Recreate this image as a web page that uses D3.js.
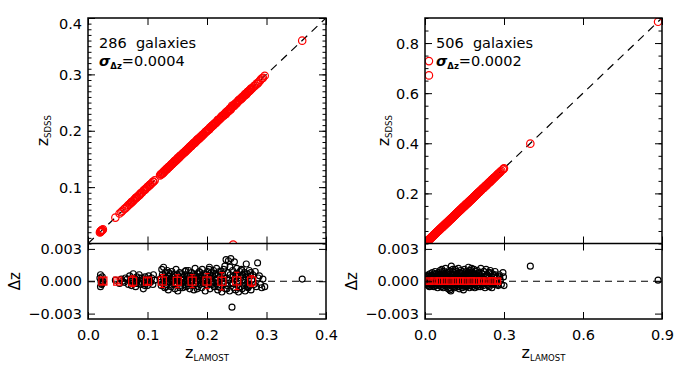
<!DOCTYPE html>
<html><head><meta charset="utf-8">
<script src="https://cdn.jsdelivr.net/npm/d3@7"></script>
<style>body{margin:0;background:#fff}svg{display:block}text{font-family:"DejaVu Sans",Arial,sans-serif}</style>
</head><body>
<script>
// ---------------- DATA ----------------
// Left sample (286 galaxies): z_LAMOST and Δz = z_LAMOST - z_SDSS
const leftZ = [0.020,0.021,0.022,0.023,0.024,0.022,0.025,0.021,0.0235,
0.046,0.053,0.056,0.058,0.061,0.063,
0.066,0.068,0.070,0.071,0.073,0.074,0.076,0.077,0.079,0.080,0.082,0.083,0.085,0.086,0.088,0.089,0.091,0.093,0.094,0.096,0.097,0.099,0.100,0.102,0.104,0.105,0.107,0.109,0.110,0.112,0.0815,0.0875,0.0955,0.1035,0.0725,
0.121,0.123,0.124,0.125,0.126,0.127,0.128,0.129,0.130,0.131,0.132,0.133,0.134,0.135,0.136,0.137,0.138,0.139,0.140,0.141,0.142,0.143,0.144,0.145,0.146,0.147,0.148,0.149,0.150,0.151,0.152,0.153,0.154,0.155,0.156,0.157,0.158,0.159,0.160,0.161,0.162,0.163,0.164,0.165,0.166,0.167,0.168,0.169,0.170,0.171,0.172,0.173,0.174,0.175,0.176,0.177,0.178,0.179,0.180,0.181,0.182,0.183,0.184,0.185,0.186,0.187,0.188,0.189,0.190,0.191,0.192,0.193,0.194,0.195,0.196,0.197,0.198,0.199,0.200,0.201,0.202,0.203,0.204,0.205,0.206,0.207,0.208,0.209,0.210,0.211,0.212,0.213,0.214,0.215,0.216,0.217,0.218,0.219,0.220,0.221,0.222,0.223,0.224,0.225,0.226,0.227,0.228,0.229,0.230,0.231,0.232,0.233,0.234,0.235,0.236,0.237,0.238,0.239,0.240,0.241,0.242,0.243,0.244,0.245,0.246,0.247,0.248,0.249,0.250,0.251,0.252,0.253,0.254,0.255,0.256,0.257,0.258,0.259,0.260,0.261,0.262,0.263,0.264,0.265,0.266,0.267,0.268,0.269,0.270,0.271,0.272,0.273,0.274,0.275,0.277,0.279,0.281,0.283,0.285,0.286,0.288,0.290,0.292,0.294,0.297,
0.1225,0.1265,0.1315,0.1355,0.1405,0.1455,0.1505,0.1545,0.1595,0.1645,0.1685,0.1735,0.1785,0.1835,0.1885,0.1935,0.1985,0.2035,0.2085,0.2135,0.2185,0.2235,0.2285,0.2335,0.2385,0.2435,0.2485,0.2535,0.2585,0.2635,0.2685,0.2735,
0.360,0.244];
const leftDz = [0.0003,-0.0005,0.0001,-0.0003,0.0004,-0.0001,0.0000,0.0006,-0.0002,
0.0001,-0.0002,0.0002,0.0000,-0.0001,0.0003,
0.0002,-0.0003,0.0005,0.0000,-0.0004,0.0003,0.0007,-0.0001,0.0002,-0.0005,0.0004,0.0001,-0.0002,0.0006,0.0000,-0.0003,0.0003,-0.0007,0.0001,0.0004,-0.0002,0.0002,-0.0004,0.0005,0.0000,-0.0001,0.0003,-0.0003,0.0006,0.0001,-0.0002,0.0003,-0.0004,0.0002,0.0001,
0.0002,-0.0004,0.0011,0.0006,-0.0002,0.0013,0.0000,-0.0006,0.0008,0.0003,-0.0003,0.0010,0.0001,-0.0008,0.0005,-0.0001,0.0007,0.0002,-0.0005,0.0009,0.0000,0.0004,-0.0003,0.0006,-0.0007,0.0001,0.0011,-0.0002,0.0003,-0.0009,0.0005,0.0000,0.0008,-0.0004,0.0002,-0.0001,0.0007,-0.0006,0.0004,0.0001,-0.0003,0.0009,0.0000,-0.0005,0.0006,0.0002,-0.0002,0.0010,0.0003,-0.0007,0.0005,-0.0001,0.0008,0.0001,-0.0004,0.0006,-0.0008,0.0002,0.0012,-0.0002,0.0004,0.0000,0.0007,-0.0005,0.0003,0.0009,-0.0003,0.0001,0.0005,-0.0006,0.0011,0.0000,-0.0002,0.0007,0.0003,-0.0009,0.0006,0.0001,-0.0004,0.0009,-0.0001,0.0004,0.0013,-0.0007,0.0002,0.0008,-0.0003,0.0005,0.0000,0.0010,-0.0005,0.0003,0.0007,-0.0002,0.0012,0.0001,-0.0008,0.0006,-0.0001,0.0009,0.0004,-0.0006,0.0002,-0.0010,0.0007,-0.0003,0.0011,0.0000,0.0014,-0.0007,0.0020,0.0003,-0.0004,0.0008,0.0019,0.0001,-0.0009,0.0006,0.0021,-0.0002,-0.0024,0.0010,0.0004,-0.0006,0.0018,0.0002,-0.0008,0.0007,0.0012,-0.0003,0.0005,-0.0010,0.0000,0.0009,-0.0005,0.0003,0.0011,-0.0007,0.0006,0.0001,-0.0004,0.0008,-0.0009,0.0004,0.0016,-0.0002,0.0007,-0.0006,0.0002,0.0010,-0.0004,0.0005,-0.0008,0.0001,0.0006,-0.0003,0.0009,-0.0005,0.0017,0.0003,0.0005,-0.0003,-0.0006,0.0002,-0.0005,
-0.0001,0.0004,-0.0005,0.0008,0.0002,-0.0002,0.0006,-0.0006,0.0003,0.0010,-0.0004,0.0000,0.0005,-0.0007,0.0008,0.0002,-0.0003,0.0011,-0.0001,0.0006,-0.0005,0.0009,0.0003,-0.0007,0.0013,-0.0002,0.0005,-0.0006,0.0010,0.0001,-0.0005,0.0008,
0.0002,0.2460];
// Left binned means
const leftBinZ = [0.025,0.050,0.075,0.100,0.125,0.150,0.175,0.200,0.225,0.250,0.275];
const leftBinDz = [0.00002,0.00001,0.00000,0.00001,0.00002,0.00000,0.00001,0.00002,0.00000,0.00003,0.00001];
const leftBinErr = [0.0003,0.0002,0.0005,0.0003,0.0006,0.0006,0.0006,0.0007,0.0008,0.0008,0.0005];

// Right sample (506 galaxies)
const rightZ = [0.005,0.006,0.007,0.008,0.009,0.010,0.011,0.012,0.013,0.014,0.016,0.017,0.018,0.019,0.020,0.021,0.022,0.023,0.024,0.025,0.026,0.027,0.028,0.029,0.030,0.031,0.032,0.033,0.034,0.035,0.036,0.037,0.038,0.039,0.040,0.041,0.042,0.043,0.044,0.045,0.046,0.047,0.048,0.049,0.050,0.051,0.052,0.053,0.054,0.055,0.056,0.057,0.058,0.059,0.060,0.061,0.062,0.063,0.064,0.065,0.066,0.067,0.068,0.069,0.070,0.071,0.072,0.073,0.074,0.075,0.076,0.077,0.078,0.079,0.080,0.081,0.082,0.083,0.084,0.085,0.086,0.087,0.088,0.089,0.090,0.091,0.092,0.093,0.094,0.095,0.096,0.097,0.098,0.099,0.100,0.101,0.102,0.103,0.104,0.105,0.106,0.107,0.108,0.109,0.110,0.111,0.112,0.113,0.114,0.115,0.116,0.117,0.118,0.119,0.120,0.121,0.122,0.123,0.124,0.125,0.126,0.127,0.128,0.129,0.130,0.131,0.132,0.133,0.134,0.135,0.136,0.137,0.138,0.139,0.140,0.141,0.142,0.143,0.144,0.145,0.146,0.147,0.148,0.149,0.150,0.151,0.152,0.153,0.154,0.155,0.156,0.157,0.158,0.159,0.160,0.161,0.162,0.163,0.164,0.165,0.166,0.167,0.168,0.169,0.170,0.171,0.172,0.173,0.174,0.175,0.176,0.177,0.178,0.179,0.180,0.181,0.182,0.183,0.184,0.185,0.186,0.187,0.188,0.189,0.190,0.191,0.192,0.193,0.194,0.195,0.196,0.197,0.198,0.199,0.200,0.202,0.204,0.206,0.208,0.210,0.212,0.214,0.216,0.218,0.220,0.222,0.224,0.226,0.228,0.230,0.232,0.234,0.236,0.238,0.240,0.242,0.244,0.246,0.248,0.250,0.252,0.254,0.256,0.258,0.260,0.263,0.266,0.270,0.274,0.278,0.282,0.286,0.290,0.296,0.298,0.300,
0.0075,0.0155,0.0255,0.0355,0.0455,0.0555,0.0655,0.0755,0.0855,0.0955,0.1055,0.1155,0.1255,0.1355,0.1455,0.1555,0.1655,0.1755,0.1855,0.1955,0.201,0.205,0.211,0.217,0.223,0.229,0.235,0.241,0.247,0.253,0.261,0.268,0.276,0.284,
0.400,0.885,0.015,0.015];
const rightDz = [0.0002,-0.0003,0.0005,0.0000,-0.0002,0.0004,0.0001,-0.0004,0.0006,-0.0001,0.0003,-0.0005,0.0002,0.0007,0.0000,-0.0003,0.0004,0.0001,-0.0002,0.0005,-0.0004,0.0002,0.0008,-0.0001,0.0003,-0.0003,0.0006,0.0000,-0.0005,0.0004,0.0001,-0.0002,0.0009,0.0003,-0.0004,0.0005,-0.0001,0.0007,0.0002,-0.0003,0.0004,0.0000,-0.0006,0.0006,0.0001,-0.0002,0.0008,0.0003,-0.0004,0.0005,-0.0001,0.0010,0.0002,-0.0003,0.0006,0.0000,-0.0005,0.0004,0.0011,0.0001,-0.0002,0.0007,0.0003,-0.0006,0.0005,-0.0001,0.0009,0.0002,-0.0004,0.0006,0.0000,-0.0003,0.0012,0.0004,-0.0002,0.0007,0.0001,-0.0005,0.0005,-0.0001,0.0008,0.0003,-0.0007,0.0006,0.0000,-0.0003,0.0010,0.0002,-0.0008,0.0004,-0.0001,0.0007,-0.0009,0.0003,0.0014,0.0001,-0.0004,0.0006,-0.0002,0.0009,0.0000,-0.0005,0.0005,0.0002,-0.0003,0.0008,0.0001,-0.0006,0.0004,0.0011,-0.0001,0.0006,-0.0004,0.0003,0.0009,0.0000,-0.0003,0.0007,0.0002,-0.0005,0.0005,0.0012,-0.0002,0.0004,-0.0007,0.0008,0.0001,-0.0003,0.0006,0.0000,0.0010,-0.0004,0.0003,-0.0001,0.0007,-0.0006,0.0002,0.0009,-0.0002,0.0005,-0.0008,0.0001,0.0006,-0.0003,0.0011,0.0003,-0.0001,0.0007,-0.0005,0.0004,0.0000,-0.0005,0.0009,0.0002,-0.0003,0.0006,0.0001,-0.0002,0.0008,0.0013,-0.0004,0.0005,0.0000,-0.0006,0.0010,0.0003,-0.0002,0.0007,0.0001,-0.0004,0.0005,0.0012,-0.0001,0.0004,-0.0005,0.0008,0.0002,-0.0003,0.0006,0.0000,0.0011,-0.0002,0.0004,-0.0006,0.0007,0.0001,-0.0003,0.0009,0.0003,-0.0001,0.0006,-0.0004,0.0002,0.0010,0.0000,0.0005,-0.0003,0.0008,0.0001,-0.0005,0.0012,0.0003,-0.0002,0.0007,0.0000,-0.0004,0.0009,0.0002,-0.0006,0.0005,0.0011,-0.0001,0.0006,-0.0003,0.0003,0.0008,-0.0005,0.0001,0.0010,-0.0002,0.0004,-0.0006,0.0007,0.0000,-0.0003,0.0005,0.0009,-0.0002,0.0003,-0.0004,0.0006,0.0001,-0.0003,0.0008,0.0004,-0.0004,
-0.0001,0.0005,-0.0002,0.0007,0.0001,-0.0004,0.0009,-0.0002,0.0004,-0.0006,0.0011,0.0002,-0.0003,0.0008,0.0000,-0.0004,0.0006,0.0010,-0.0002,0.0004,-0.0005,0.0007,0.0002,-0.0003,0.0009,0.0000,0.0005,-0.0004,0.0008,0.0001,-0.0002,0.0006,-0.0003,0.0004,
0.0014,0.0001,-0.7130,-0.6560];
const rightBinZ = [0.015,0.035,0.055,0.075,0.095,0.115,0.135,0.155,0.175,0.195,0.215,0.235,0.255,0.275];
const rightBinDz = [0.00001,0.00002,0.00001,0.00002,0.00001,0.00002,0.00002,0.00001,0.00002,0.00001,0.00002,0.00001,0.00002,0.00001];
const rightBinErr = [0.0002,0.0002,0.0003,0.0003,0.0003,0.0003,0.0003,0.0003,0.0003,0.0003,0.0002,0.0002,0.0003,0.0002];

// tick values
const leftXTicks = [0.0,0.1,0.2,0.3,0.4];
const leftYTicks = [0.1,0.2,0.3,0.4];
const rightXTicks = [0.0,0.3,0.6,0.9];
const rightYTicks = [0.2,0.4,0.6,0.8];
const dzTicks = [-0.003,0.000,0.003];

const panels = [
  {x0:88, x1:326, xMax:0.4, yMax:0.4, xTicks:leftXTicks, yTicks:leftYTicks, yMinorStep:0.01,
   z:leftZ, dz:leftDz, binZ:leftBinZ, binDz:leftBinDz, binErr:leftBinErr, sq:8,
   n:"286", sigma:"0.0004", dzTitleX:20, zTitleX:48},
  {x0:425, x1:662, xMax:0.9, yMax:0.9, xTicks:rightXTicks, yTicks:rightYTicks, yMinorStep:0.05,
   z:rightZ, dz:rightDz, binZ:rightBinZ, binDz:rightBinDz, binErr:rightBinErr, sq:6.5,
   n:"506", sigma:"0.0002", dzTitleX:357, zTitleX:389}
];

// ---------------- LAYOUT ----------------
const W = 694, H = 375;
const yTop = 18, ySep = 243.5, yBot = 319;
const FONT = 14.5;
const FAM = '"DejaVu Sans", Arial, sans-serif';

const svg = d3.select("body").append("svg").attr("width", W).attr("height", H);
svg.append("rect").attr("width", W).attr("height", H).attr("fill", "#fff");
const defs = svg.append("defs");

function styleAxis(g) {
  g.select(".domain").remove();
  g.selectAll("line").attr("stroke", "#000").attr("stroke-width", 1);
  g.attr("font-family", null).attr("font-size", null);
  g.selectAll("text").attr("fill", "#000").style("font-size", FONT + "px").style("font-family", FAM);
}

panels.forEach((p, i) => {
  const x = d3.scaleLinear().domain([0, p.xMax]).range([p.x0, p.x1]);
  const yT = d3.scaleLinear().domain([0, p.yMax]).range([ySep, yTop]);
  const yB = d3.scaleLinear().domain([-0.0035, 0.0035]).range([yBot, ySep]);

  defs.append("clipPath").attr("id", "ct" + i).append("rect")
    .attr("x", p.x0).attr("y", yTop).attr("width", p.x1 - p.x0).attr("height", ySep - yTop);
  defs.append("clipPath").attr("id", "cb" + i).append("rect")
    .attr("x", p.x0).attr("y", ySep).attr("width", p.x1 - p.x0).attr("height", yBot - ySep);

  // ----- top panel -----
  const gt = svg.append("g").attr("clip-path", `url(#ct${i})`);
  gt.append("line")
    .attr("x1", x(0)).attr("y1", yT(0)).attr("x2", x(p.xMax)).attr("y2", yT(p.xMax))
    .attr("stroke", "#000").attr("stroke-width", 1.2).attr("stroke-dasharray", "8,6");
  gt.selectAll("circle").data(p.z.map((z, k) => [z, z - p.dz[k]])).join("circle")
    .attr("cx", d => x(d[0])).attr("cy", d => yT(d[1])).attr("r", 3.7)
    .attr("fill", "none").attr("stroke", "#ff0000").attr("stroke-width", 1.2);

  // ----- bottom panel -----
  const gb = svg.append("g").attr("clip-path", `url(#cb${i})`);
  gb.selectAll("circle").data(p.z.map((z, k) => [z, p.dz[k]])).join("circle")
    .attr("cx", d => x(d[0])).attr("cy", d => yB(d[1])).attr("r", 3)
    .attr("fill", "none").attr("stroke", "#000").attr("stroke-width", 1.15);
  gb.append("line")
    .attr("x1", x(0)).attr("y1", yB(0)).attr("x2", x(p.xMax)).attr("y2", yB(0))
    .attr("stroke", "#000").attr("stroke-width", 1.2).attr("stroke-dasharray", "7,5");
  const bins = p.binZ.map((z, k) => ({z, m: p.binDz[k], e: p.binErr[k]}));
  const bg = gb.selectAll("g.bin").data(bins).join("g").attr("class", "bin");
  bg.append("line").attr("x1", d => x(d.z)).attr("x2", d => x(d.z))
    .attr("y1", d => yB(d.m - d.e)).attr("y2", d => yB(d.m + d.e))
    .attr("stroke", "#ff0000").attr("stroke-width", 1.2);
  [1, -1].forEach(s => bg.append("line")
    .attr("x1", d => x(d.z) - 2.5).attr("x2", d => x(d.z) + 2.5)
    .attr("y1", d => yB(d.m + s * d.e)).attr("y2", d => yB(d.m + s * d.e))
    .attr("stroke", "#ff0000").attr("stroke-width", 1.2));
  bg.append("rect").attr("x", d => x(d.z) - p.sq / 2).attr("y", d => yB(d.m) - p.sq / 2)
    .attr("width", p.sq).attr("height", p.sq)
    .attr("fill", "none").attr("stroke", "#ff0000").attr("stroke-width", 1.3);

  // ----- axes: top panel -----
  const yMinor = d3.range(Math.round(p.yMax / p.yMinorStep) + 1).map(k => +(k * p.yMinorStep).toFixed(3));
  svg.append("g").attr("transform", `translate(${p.x0},0)`)
    .call(d3.axisLeft(yT).tickValues(yMinor).tickSizeInner(-3.5).tickSizeOuter(0).tickFormat("")).call(styleAxis);
  svg.append("g").attr("transform", `translate(${p.x1},0)`)
    .call(d3.axisRight(yT).tickValues(yMinor).tickSizeInner(-3.5).tickSizeOuter(0).tickFormat("")).call(styleAxis);
  const yl = svg.append("g").attr("transform", `translate(${p.x0},0)`)
    .call(d3.axisLeft(yT).tickValues(p.yTicks).tickSizeInner(-7).tickSizeOuter(0).tickPadding(6).tickFormat(d3.format(".1f"))).call(styleAxis);
  yl.selectAll("text").attr("dy", v => yT(v) - yTop < 3 ? "0.75em" : "0.35em");
  svg.append("g").attr("transform", `translate(${p.x1},0)`)
    .call(d3.axisRight(yT).tickValues(p.yTicks).tickSizeInner(-7).tickSizeOuter(0).tickFormat("")).call(styleAxis);
  svg.append("g").attr("transform", `translate(0,${yTop})`)
    .call(d3.axisTop(x).tickValues(p.xTicks).tickSizeInner(-7).tickSizeOuter(0).tickFormat("")).call(styleAxis);
  svg.append("g").attr("transform", `translate(0,${ySep})`)
    .call(d3.axisBottom(x).tickValues(p.xTicks).tickSizeInner(-7).tickSizeOuter(0).tickFormat("")).call(styleAxis);

  // ----- axes: bottom panel -----
  svg.append("g").attr("transform", `translate(${p.x0},0)`)
    .call(d3.axisLeft(yB).tickValues(dzTicks).tickSizeInner(-7).tickSizeOuter(0).tickPadding(6).tickFormat(d3.format(".3f"))).call(styleAxis);
  svg.append("g").attr("transform", `translate(${p.x1},0)`)
    .call(d3.axisRight(yB).tickValues(dzTicks).tickSizeInner(-7).tickSizeOuter(0).tickFormat("")).call(styleAxis);
  svg.append("g").attr("transform", `translate(0,${ySep})`)
    .call(d3.axisTop(x).tickValues(p.xTicks).tickSizeInner(-7).tickSizeOuter(0).tickFormat("")).call(styleAxis);
  svg.append("g").attr("transform", `translate(0,${yBot})`)
    .call(d3.axisBottom(x).tickValues(p.xTicks).tickSizeInner(-7).tickSizeOuter(0).tickPadding(11).tickFormat(d3.format(".1f"))).call(styleAxis);

  // frames
  svg.append("rect").attr("x", p.x0).attr("y", yTop).attr("width", p.x1 - p.x0).attr("height", yBot - yTop)
    .attr("fill", "none").attr("stroke", "#000").attr("stroke-width", 1.5);
  svg.append("line").attr("x1", p.x0).attr("x2", p.x1).attr("y1", ySep).attr("y2", ySep)
    .attr("stroke", "#000").attr("stroke-width", 1.5);

  // titles
  const xt = svg.append("text").attr("x", (p.x0 + p.x1) / 2).attr("y", 358).attr("text-anchor", "middle")
    .style("font-size", "16px");
  xt.append("tspan").text("z");
  xt.append("tspan").attr("dy", 3).style("font-size", "8.5px").text("LAMOST");

  const zt = svg.append("text").attr("transform", `translate(${p.zTitleX},${(yTop + ySep) / 2}) rotate(-90)`)
    .attr("text-anchor", "middle").style("font-size", "16px");
  zt.append("tspan").text("z");
  zt.append("tspan").attr("dy", 3).style("font-size", "8.5px").text("SDSS");

  svg.append("text").attr("transform", `translate(${p.dzTitleX},${yB(0)}) rotate(-90)`)
    .attr("text-anchor", "middle").style("font-size", "15px").text("Δz");

  // annotation
  const tx = p.x0 + 11;
  svg.append("text").attr("x", tx).attr("y", 48).style("font-size", FONT + "px")
    .style("white-space", "pre").text(p.n + "  galaxies");
  const st = svg.append("text").attr("x", tx).attr("y", 66).style("font-size", FONT + "px");
  st.append("tspan").attr("font-weight", "bold").attr("font-style", "italic").text("σ");
  st.append("tspan").attr("dy", 3).attr("font-weight", "bold").style("font-size", "8.5px").text("Δz");
  st.append("tspan").attr("dy", -3).text("=" + p.sigma);
});
</script>
</body></html>
